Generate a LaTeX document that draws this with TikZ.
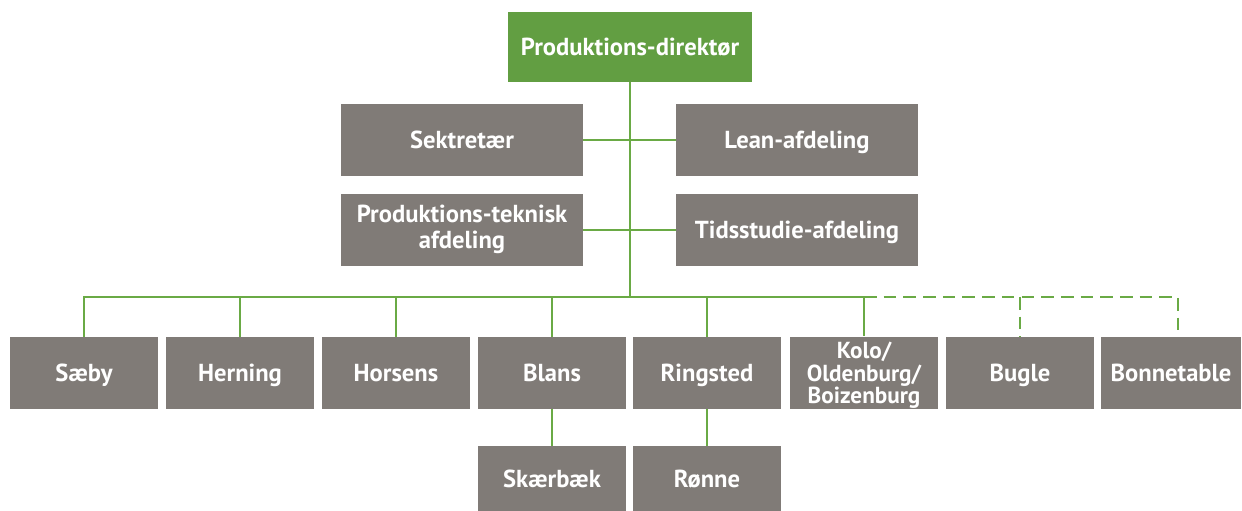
\documentclass[tikz,border=0pt]{standalone}
\usepackage{fontspec}
\setmainfont{PT Sans}
\usepackage{tikz}

\definecolor{orggreen}{HTML}{629E42}
\definecolor{orggray}{HTML}{807B77}
\definecolor{orgline}{HTML}{6AAA45}

\newcommand{\boxstrut}{\rule[-0.25em]{0pt}{1.2em}}

\tikzset{
  unitbox/.style={fill=orggray, text=white, font=\fontsize{17.5}{18.5}\selectfont\bfseries,
    align=center, inner sep=0pt, minimum width=3.7cm, minimum height=1.775cm,
    execute at begin node=\boxstrut},
  staffbox/.style={unitbox, minimum width=6.05cm, minimum height=1.8cm},
  headbox/.style={unitbox, fill=orggreen, minimum width=6.1cm, minimum height=1.75cm},
  orgline/.style={draw=orgline, line width=1.7pt}
}

\begin{document}
\begin{tikzpicture}[x=0.025cm, y=-0.025cm]
                \useasboundingbox (0,0) rectangle (1242,511);

                \node[headbox] (direktor) at (630,47) {Produktions-direktør};

                \node[staffbox] (sekretaer) at (462,140) {Sektretær};
                \node[staffbox] (lean) at (797,140) {Lean-afdeling};
                \node[staffbox] (teknisk) at (462,230) {Produktions-teknisk\\afdeling};
                \node[staffbox] (tidsstudie) at (797,230) {Tidsstudie-afdeling};

                \node[unitbox] (saeby) at (84,373) {Sæby};
                \node[unitbox] (herning) at (240,373) {Herning};
                \node[unitbox] (horsens) at (396,373) {Horsens};
                \node[unitbox] (blans) at (552,373) {Blans};
                \node[unitbox] (ringsted) at (707,373) {Ringsted};
                \node[unitbox, font=\fontsize{16.5}{16}\selectfont\bfseries,
                      execute at begin node={}] (kolo) at (864,373) {\rule{0pt}{0.95em}Kolo/\\Oldenburg/\\Boizenburg};
                \node[unitbox] (bugle) at (1020,373) {Bugle};
                \node[unitbox, minimum width=3.5cm] (bonnetable) at (1171,373) {Bonnetable};

                \node[unitbox, minimum height=1.65cm] (skaerbaek) at (552,479) {Skærbæk};
                \node[unitbox, minimum height=1.65cm] (ronne) at (707,479) {Rønne};

                \coordinate (bus) at (630,297);

                % trunk and staff
                \draw[orgline] (direktor.south) -- (bus);
                \draw[orgline] (sekretaer.east) -- (lean.west);
                \draw[orgline] (teknisk.east) -- (tidsstudie.west);

                % solid bus
                \draw[orgline] (saeby.north) |- (bus) -| (kolo.north);
                \foreach \n in {herning,horsens,blans,ringsted}
                    \draw[orgline] (\n.north) -- (\n.north |- bus);

                % dashed bus
                \draw[orgline, dash pattern=on 9pt off 5pt] (kolo.north |- bus) -| ([xshift=5]bonnetable.north);
                \draw[orgline, dash pattern=on 9pt off 5pt] (bugle.north |- bus) -- (bugle.north);

                \draw[orgline] (blans.south) -- (skaerbaek.north);
                \draw[orgline] (ringsted.south) -- (ronne.north);
            \end{tikzpicture}
\end{document}
